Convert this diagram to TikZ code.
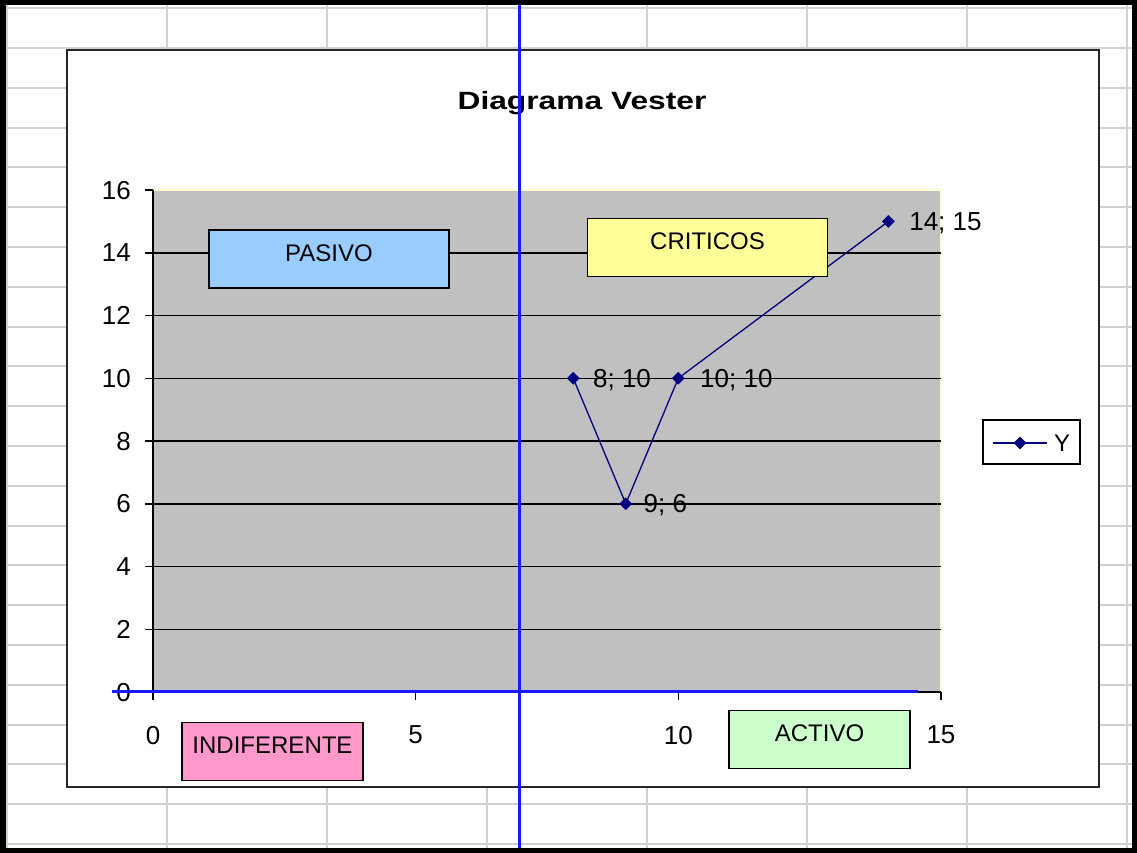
\documentclass[tikz,border=0pt]{standalone}
\usepackage{fontspec}
\setmainfont{Liberation Sans}
\newfontfamily\titlefont[FakeStretch=1.27]{Liberation Sans}
\usetikzlibrary{shapes, positioning}
\definecolor{vestergrid}{rgb}{0.82, 0.82, 0.82}
\definecolor{vesterplot}{rgb}{0.752941, 0.752941, 0.752941}
\definecolor{vesternavy}{rgb}{0, 0, 0.501961}
\definecolor{vesterblue}{rgb}{0.1, 0.1, 1.0}
\definecolor{vesterpale}{rgb}{1.0, 1.0, 0.8}
\definecolor{vesterpasivo}{rgb}{0.6, 0.8, 1.0}
\definecolor{vestercritico}{rgb}{1.0, 1.0, 0.6}
\definecolor{vesterindif}{rgb}{1.0, 0.6, 0.8}
\definecolor{vesteractivo}{rgb}{0.8, 1.0, 0.8}

\begin{document}
\begin{tikzpicture}[x=1pt, y=-1pt, every node/.style={font=\fontsize{24}{29}\selectfont},
        zonebox/.style={draw, line width=1.5pt, minimum height=58pt, text depth=12pt},
        vesterpoint/.style={diamond, fill=vesternavy, inner sep=0pt, minimum size=13pt},
        numlabel/.style={inner sep=0pt, text depth=0pt, font=\fontsize{26}{31}\selectfont}]
        \useasboundingbox (0,0) rectangle (1137,853);
        \fill[black] (0,0) rectangle (1137,853);
        \fill[white] (8,5) rectangle (1132,848);
        \foreach \k in {0, ..., 7}{
            \draw[vestergrid, line width=2pt] (7+160*\k,5) -- (7+160*\k,848);
        }
        \foreach \k in {-1, ..., 20}{
            \draw[vestergrid, line width=2pt] (8,48+39.8*\k) -- (1132,48+39.8*\k);
        }
        \draw[fill=white, draw=black!85, line width=2pt] (67,50) rectangle (1099,787);
        \node[anchor=base, font=\titlefont\fontsize{25}{30}\selectfont\bfseries] (title) at (582,110) {Diagrama Vester};

        \begin{scope}[shift={(153,692)}, x=52.53pt, y=31.375pt]
            \fill[vesterplot] (0,0) rectangle (15,16);
            \draw[vesterpale, line width=1.5pt] (0,16) -- (15,16) -- (15,0);
            \foreach \y in {2, 4, ..., 14}{
                \draw[line width=1.5pt] (0,\y) -- (15,\y);
            }
            \draw[line width=1.5pt] (0,16) -- (0,0) -- (15,0);
            \foreach \y in {0, 2, ..., 16}{
                \draw[line width=1.5pt] (0,\y) -- ++(-8pt,0);
                \node[numlabel, anchor=east] (Y\y) at ([xshift=-22pt]0,\y) {\y};
            }
            \foreach \x in {0, 5, 10, 15}{
                \draw[line width=1.5pt] (\x,0) -- ++(0,-8pt);
                \node[numlabel] (X\x) at ([yshift=-43pt]\x,0) {\x};
            }
            \node[vesterpoint] (P1) at (8,10) {};
            \node[vesterpoint] (P2) at (9,6) {};
            \node[vesterpoint] (P3) at (10,10) {};
            \node[vesterpoint] (P4) at (14,15) {};
            \draw[vesternavy, line width=1.3pt] (P1.center) -- (P2.center) -- (P3.center) -- (P4.center);
            \node[numlabel, right=13pt of P1] (L1) {8; 10};
            \node[numlabel, right=11pt of P2] (L2) {9; 6};
            \node[numlabel, right=15pt of P3] (L3) {10; 10};
            \node[numlabel, right=14pt of P4] (L4) {14; 15};
        \end{scope}

        \node[zonebox, fill=vesterpasivo, minimum width=240pt] (pasivo) at (329,259) {PASIVO};
        \node[zonebox, fill=vestercritico, minimum width=240pt] (criticos) at (707.5,247.5) {CRITICOS};
        \node[zonebox, fill=vesterindif, minimum width=181pt] (indiferente) at (272.5,751.5) {INDIFERENTE};
        \node[zonebox, fill=vesteractivo, minimum width=181pt] (activo) at (819.5,739.5) {ACTIVO};

        \node[draw, line width=2pt, fill=white, minimum width=97pt, minimum height=44pt] (legend) at (1031.5,442) {};
        \coordinate (LA) at (993,443);
        \coordinate (LB) at (1047,443);
        \draw[vesternavy, line width=1.5pt] (LA) -- (LB);
        \node[vesterpoint] (LP) at (1020,443) {};
        \node[anchor=west, inner sep=0pt] (LY) at (1054,443) {Y};

        \draw[vesterblue, line width=3pt] (112,691) -- (918,691);
        \draw[vesterblue, line width=3pt] (519,5) -- (519,848);
    \end{tikzpicture}
\end{document}
